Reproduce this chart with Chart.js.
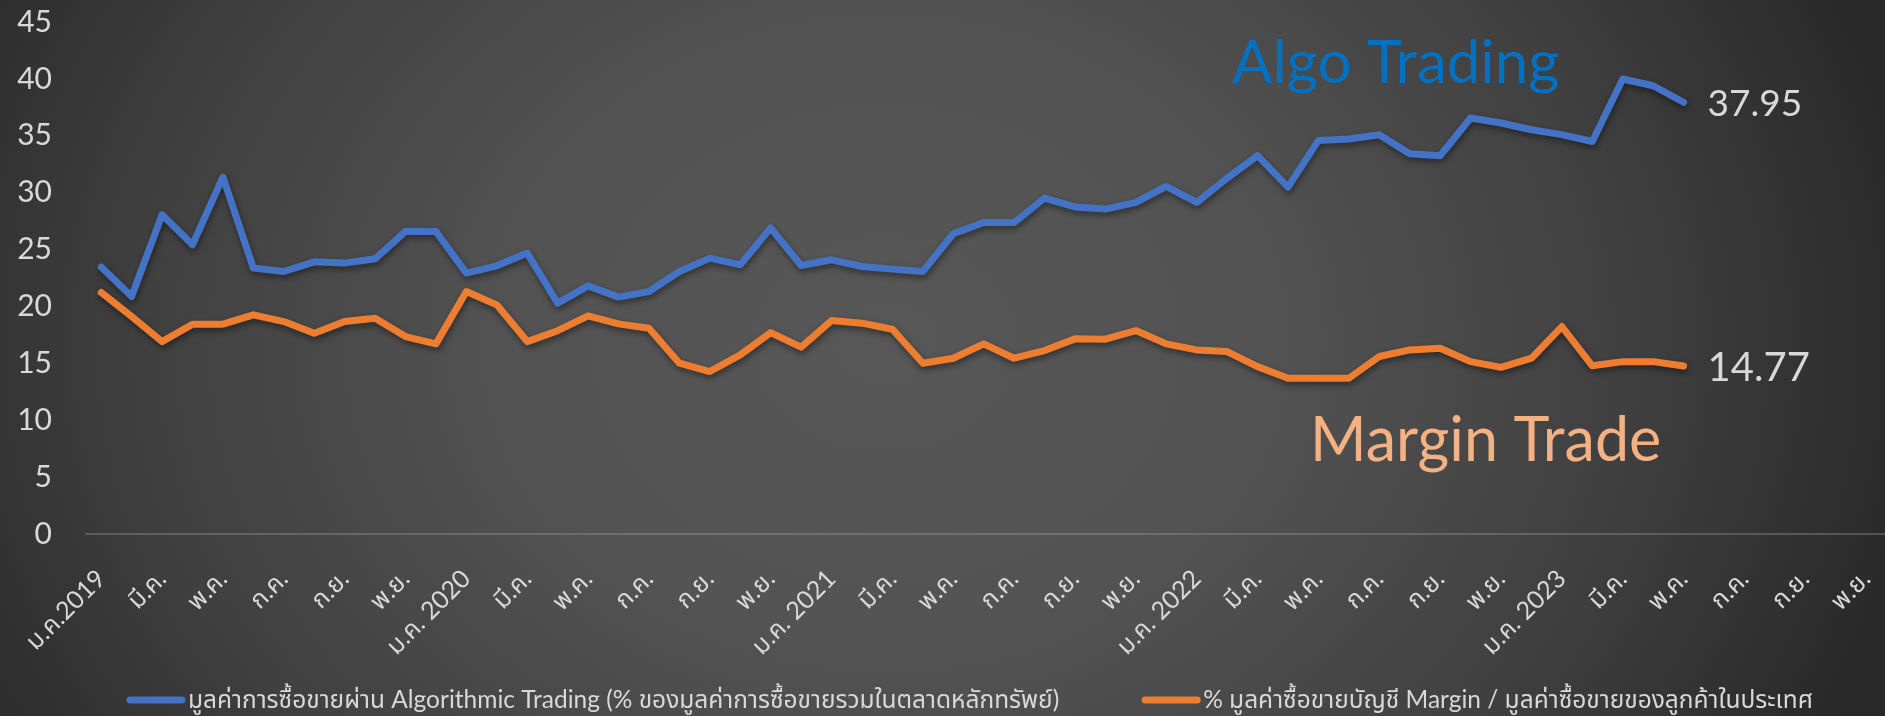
<!DOCTYPE html>
<html>
<head>
<meta charset="utf-8">
<script src="https://cdn.jsdelivr.net/npm/chart.js@4/dist/chart.umd.min.js"></script>
<style>
  html, body {
    margin: 0;
    padding: 0;
    width: 1885px;
    height: 716px;
    overflow: hidden;
  }
  body {
    background: radial-gradient(ellipse 56% 120% at 47% 48%, #575757 0%, #535353 35%, #404040 70%, #282828 100%);
  }
  #wrap {
    position: absolute;
    left: 0;
    top: 0;
    width: 1940px;
    height: 716px;
  }
</style>
</head>
<body>
<div id="wrap"><canvas id="tradeChart" width="1940" height="716"></canvas></div>
<script>
// month names (Thai) and years on the axis
const thMonths = ['ม.ค.', 'ก.พ.', 'มี.ค.', 'เม.ย.', 'พ.ค.', 'มิ.ย.', 'ก.ค.', 'ส.ค.', 'ก.ย.', 'ต.ค.', 'พ.ย.', 'ธ.ค.'];
const years = [2019, 2020, 2021, 2022, 2023];

// series names
const algoName = 'มูลค่าการซื้อขายผ่าน Algorithmic Trading (% ของมูลค่าการซื้อขายรวมในตลาดหลักทรัพย์)';
const marginName = '% มูลค่าซื้อขายบัญชี Margin / มูลค่าซื้อขายของลูกค้าในประเทศ';

// monthly values, ม.ค. 2019 - พ.ค. 2023
const algoData = [
    23.46, 20.87, 28.06, 25.42, 31.37, 23.37, 23.07, 23.92, 23.81, 24.19, 26.59, 26.59,
    22.93, 23.57, 24.69, 20.29, 21.81, 20.82, 21.31, 23.07, 24.25, 23.66, 26.89, 23.60,
    24.10, 23.51, 23.28, 23.07, 26.39, 27.38, 27.38, 29.52, 28.75, 28.56, 29.14, 30.55,
    29.14, 31.28, 33.25, 30.49, 34.59, 34.71, 35.09, 33.42, 33.25, 36.56, 36.12, 35.53,
    35.10, 34.50, 39.99, 39.40, 37.95
];
const marginData = [
    21.22, 19.11, 16.91, 18.44, 18.44, 19.26, 18.67, 17.65, 18.67, 18.97, 17.35, 16.71,
    21.31, 20.14, 16.91, 17.87, 19.17, 18.47, 18.09, 15.01, 14.28, 15.74, 17.70, 16.42,
    18.76, 18.53, 18.00, 15.01, 15.45, 16.71, 15.45, 16.12, 17.15, 17.12, 17.88, 16.71,
    16.18, 16.03, 14.71, 13.69, 13.69, 13.69, 15.60, 16.18, 16.33, 15.15, 14.65, 15.45,
    18.23, 14.78, 15.15, 15.15, 14.77
];

// y axis ticks
const yMin = 0, yMax = 45, yStep = 5;

// build category labels (every month of 2019-2023)
let labels = [];
years.forEach((yr, yi) => {
    thMonths.forEach((m, mi) => {
        if (mi === 0) {
            labels.push(yi === 0 ? m + yr : m + ' ' + yr);
        } else {
            labels.push(m);
        }
    });
});

const fontStack = "Lato, 'Noto Sans Thai', 'Noto Sans', 'DejaVu Sans', sans-serif";
const textColor = '#d9d9d9';

// 🔹 soft shadow under the lines
const lineShadow = {
    id: 'lineShadow',
    beforeDatasetsDraw(chart) {
        let c = chart.ctx;
        c.save();
        c.shadowColor = 'rgba(0,0,0,0.45)';
        c.shadowBlur = 6;
        c.shadowOffsetX = 1;
        c.shadowOffsetY = 3;
    },
    afterDatasetsDraw(chart) {
        chart.ctx.restore();
    }
};

// 🔹 end labels, big captions and the legend
const extras = {
    id: 'extras',
    afterDraw(chart) {
        let c = chart.ctx;
        c.save();

        // last values next to the line ends
        const endSizes = [37, 40];
        chart.data.datasets.forEach((ds, i) => {
            let meta = chart.getDatasetMeta(i);
            let pt = meta.data[meta.data.length - 1];
            c.font = endSizes[i] + 'px ' + fontStack;
            c.fillStyle = textColor;
            c.textAlign = 'left';
            c.textBaseline = 'middle';
            c.fillText(ds.data[ds.data.length - 1].toFixed(2), pt.x + 24, pt.y + 2);
        });

        // captions
        c.textBaseline = 'alphabetic';
        c.font = '60px ' + fontStack;
        c.fillStyle = '#0070C0';
        c.fillText('Algo Trading', 1232, 83);
        c.font = '61px ' + fontStack;
        c.fillStyle = '#F4B183';
        c.fillText('Margin Trade', 1310, 461);

        // legend
        c.font = '24.5px ' + fontStack;
        c.textBaseline = 'middle';
        const lineLen = 58, textGap = 3, itemGap = 83, legendY = 700, legendCenter = 970;
        let items = chart.data.datasets.map(ds => ({
            text: ds.label,
            color: ds.borderColor,
            w: lineLen + textGap + c.measureText(ds.label).width
        }));
        let total = items.reduce((s, it) => s + it.w, 0) + itemGap * (items.length - 1);
        let x = legendCenter - total / 2;
        items.forEach(it => {
            c.strokeStyle = it.color;
            c.lineWidth = 7;
            c.lineCap = 'round';
            c.beginPath();
            c.moveTo(x + 3, legendY);
            c.lineTo(x + lineLen - 3, legendY);
            c.stroke();
            c.fillStyle = textColor;
            c.fillText(it.text, x + lineLen + textGap, legendY);
            x += it.w + itemGap;
        });

        c.restore();
    }
};

let ctx = document.getElementById('tradeChart').getContext('2d');

new Chart(ctx, {
    type: 'line',
    data: {
        labels: labels,
        datasets: [
            {
                label: algoName,
                data: algoData,
                borderColor: '#4472C4',
                backgroundColor: '#4472C4',
                borderWidth: 7,
                pointRadius: 0,
                tension: 0,
                borderJoinStyle: 'round',
                borderCapStyle: 'round'
            },
            {
                label: marginName,
                data: marginData,
                borderColor: '#ED7D31',
                backgroundColor: '#ED7D31',
                borderWidth: 7,
                pointRadius: 0,
                tension: 0,
                borderJoinStyle: 'round',
                borderCapStyle: 'round'
            }
        ]
    },
    options: {
        responsive: false,
        animation: false,
        layout: {
            padding: { top: 22, right: 22, left: 0, bottom: 0 }
        },
        plugins: {
            legend: { display: false },
            tooltip: { enabled: false }
        },
        scales: {
            x: {
                offset: true,
                grid: { display: false },
                border: { display: true, color: 'rgba(160,160,160,0.35)', width: 2 },
                ticks: {
                    autoSkip: false,
                    minRotation: 45,
                    maxRotation: 45,
                    color: textColor,
                    padding: 22,
                    font: { family: fontStack, size: 25 },
                    callback: function (val, idx) {
                        return idx % 2 === 0 ? this.getLabelForValue(val) : '';
                    }
                },
                afterFit: s => { s.height = 182; }
            },
            y: {
                min: yMin,
                max: yMax,
                grid: { display: false, drawTicks: false },
                border: { display: false },
                ticks: {
                    stepSize: yStep,
                    color: textColor,
                    padding: 34,
                    font: { family: fontStack, size: 30 }
                },
                afterFit: s => {
                    s.width = 86;
                    // keep the tick padding from pushing the plot down
                    s.paddingTop = 0;
                    s.paddingBottom = 0;
                }
            }
        }
    },
    plugins: [lineShadow, extras]
});
</script>
</body>
</html>
